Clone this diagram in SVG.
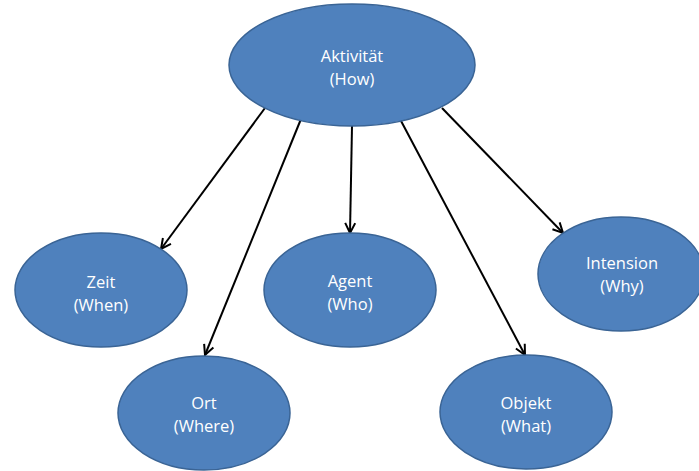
<svg xmlns="http://www.w3.org/2000/svg" width="699" height="471" viewBox="0 0 699 471">
  <style>
    .node ellipse { fill: #4F81BD; stroke: #3A6495; stroke-width: 1.5; }
    .node text { fill: #FFFFFF; font-family: "Open Sans", Lato, "Liberation Sans", sans-serif; font-size: 16.5px; text-anchor: middle; }
    .edges line { stroke: #000000; stroke-width: 2; marker-end: url(#arrow); }
  </style>
  <defs>
    <marker id="arrow" viewBox="0 0 12 12" refX="11" refY="6" markerWidth="12" markerHeight="12" markerUnits="userSpaceOnUse" orient="auto">
      <path d="M1,1 L11,6 L1,11" fill="none" stroke="#000000" stroke-width="2" stroke-linejoin="miter"/>
    </marker>
  </defs>
  <rect width="699" height="471" fill="#FFFFFF"/>

  <g class="edges">
    <line x1="265" y1="108" x2="161" y2="249"/>
    <line x1="301" y1="119" x2="205" y2="355"/>
    <line x1="352" y1="126" x2="350" y2="233"/>
    <line x1="400" y1="119" x2="525" y2="355"/>
    <line x1="442" y1="108" x2="563" y2="233"/>
  </g>

  <g id="aktivitaet" class="node">
    <ellipse cx="352" cy="65" rx="123" ry="61"/>
    <text x="352" y="62">Aktivität</text>
    <text x="352" y="85">(How)</text>
  </g>
  <g id="zeit" class="node">
    <ellipse cx="101" cy="290" rx="86" ry="57"/>
    <text x="101" y="288">Zeit</text>
    <text x="101" y="311">(When)</text>
  </g>
  <g id="ort" class="node">
    <ellipse cx="204" cy="413" rx="86" ry="57"/>
    <text x="204" y="409">Ort</text>
    <text x="204" y="432">(Where)</text>
  </g>
  <g id="agent" class="node">
    <ellipse cx="350" cy="290" rx="86" ry="57"/>
    <text x="350" y="287">Agent</text>
    <text x="350" y="310">(Who)</text>
  </g>
  <g id="objekt" class="node">
    <ellipse cx="526" cy="412" rx="86" ry="57"/>
    <text x="526" y="409">Objekt</text>
    <text x="526" y="432">(What)</text>
  </g>
  <g id="intension" class="node">
    <ellipse cx="621" cy="274" rx="83" ry="57"/>
    <text x="622" y="269">Intension</text>
    <text x="622" y="292">(Why)</text>
  </g>
</svg>
